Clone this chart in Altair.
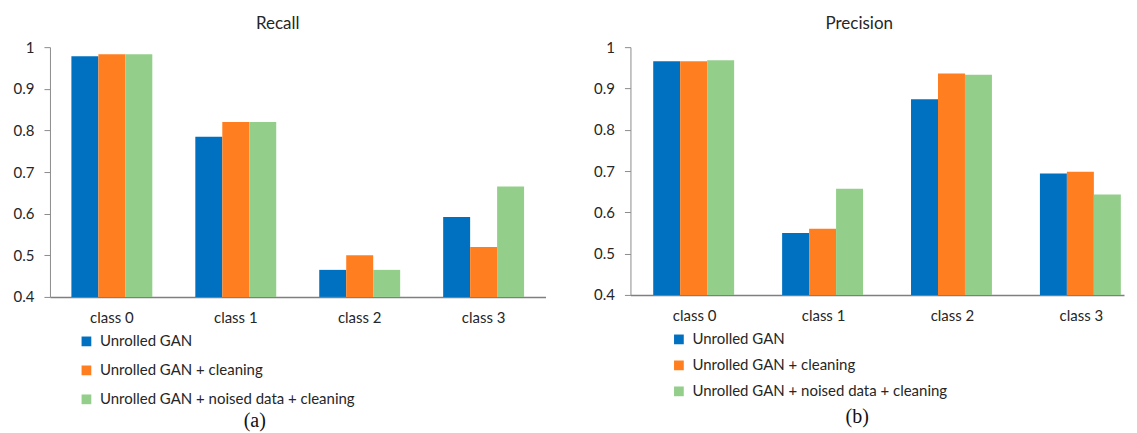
import altair as alt
import pandas as pd

classes = ["class 0", "class 1", "class 2", "class 3"]
series = ["Unrolled GAN", "Unrolled GAN + cleaning", "Unrolled GAN + noised data + cleaning"]
colors = ["#0070C0", "#FF7F20", "#93CF8B"]

recall_gan = [0.978, 0.785, 0.465, 0.592]
recall_clean = [0.983, 0.820, 0.500, 0.520]
recall_noised = [0.983, 0.820, 0.465, 0.665]

precision_gan = [0.966, 0.550, 0.874, 0.694]
precision_clean = [0.966, 0.560, 0.936, 0.698]
precision_noised = [0.968, 0.657, 0.933, 0.643]

y_ticks = [0.4, 0.5, 0.6, 0.7, 0.8, 0.9, 1.0]

FONT = "Lato"
TXT = "#262626"


def make_df(a, b, c):
    rows = []
    for vals, s in zip([a, b, c], series):
        for cl, v in zip(classes, vals):
            rows.append({"cls": cl, "series": s, "value": v})
    return pd.DataFrame(rows)


def panel(df, title, caption, width, height, pad_inner, pad_outer, align,
          legend_x, legend_y, row_pad, cap_x, cap_y, title_dx):
    base = alt.Chart(df)
    bars = base.mark_bar().encode(
        x=alt.X("cls:N", sort=classes, title=None,
                scale=alt.Scale(paddingInner=pad_inner, paddingOuter=pad_outer, align=align),
                axis=alt.Axis(labelAngle=0, ticks=False, labelPadding=14,
                              labelFont=FONT, labelFontSize=15, labelColor=TXT,
                              domainColor="#7f7f7f", domainWidth=1.6, grid=False)),
        xOffset=alt.XOffset("series:N", sort=series,
                            scale=alt.Scale(paddingInner=0, paddingOuter=0)),
        y=alt.Y("value:Q", title=None,
                scale=alt.Scale(domain=[0.4, 1.0], zero=False, nice=False),
                axis=alt.Axis(values=y_ticks, format=".1~f", grid=False,
                              tickSize=6, labelPadding=10, tickColor="#8c8c8c",
                              domainColor="#8c8c8c", labelFont=FONT, labelFontSize=15,
                              labelColor=TXT)),
        y2=alt.datum(0.4),
        color=alt.Color("series:N", sort=series,
                        scale=alt.Scale(domain=series, range=colors),
                        legend=alt.Legend(title=None, orient="none", legendX=legend_x,
                                          legendY=legend_y, direction="vertical",
                                          symbolType="square", symbolSize=95,
                                          symbolStrokeWidth=0, rowPadding=row_pad,
                                          labelFont=FONT, labelFontSize=15, labelLimit=0,
                                          labelColor=TXT, padding=0, labelOffset=6)),
    )
    cap = alt.Chart(pd.DataFrame({"t": [caption]})).mark_text(
        font="Liberation Serif", fontSize=20, color="#111", align="center", baseline="middle"
    ).encode(text="t:N", x=alt.value(cap_x), y=alt.value(cap_y))
    return alt.layer(bars, cap).properties(
        width=width, height=height,
        title=alt.TitleParams(title, font=FONT, fontSize=17, fontWeight="normal",
                              color=TXT, offset=7, dx=title_dx),
    )


left = panel(make_df(recall_gan, recall_clean, recall_noised), "Recall", "(a)",
             496, 250, 0.347, 0.173, 0.5, 29, 287, 13, 205, 374, -20)
right = panel(make_df(precision_gan, precision_clean, precision_noised), "Precision", "(b)",
              494, 248, 0.357, 0.093, 0.95, 41, 285, 10, 227, 370, -18)

chart = alt.hconcat(left, right, spacing=48).resolve_scale(
    color="independent", x="independent", y="independent"
).resolve_legend(color="independent").configure_view(stroke=None).properties(
    padding={"left": 5, "right": 5, "top": 7, "bottom": 5}
)

chart.save("out.html", embed_options={"renderer": "svg", "actions": False})
